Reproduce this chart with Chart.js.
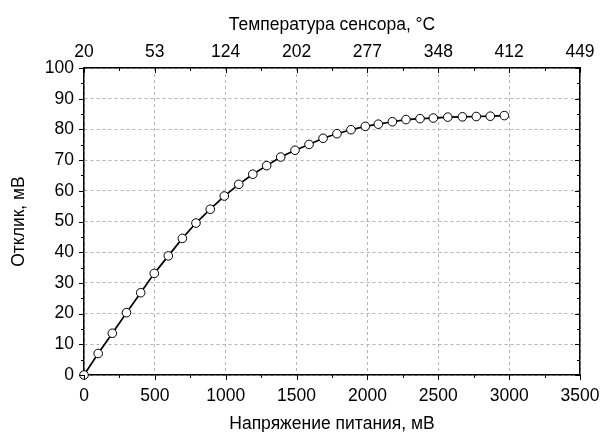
<!DOCTYPE html>
<html>
<head>
<meta charset="utf-8">
<script src="https://cdn.jsdelivr.net/npm/chart.js@4.4.0/dist/chart.umd.min.js"></script>
<style>
  html, body { margin: 0; padding: 0; background: #fff; }
  #wrap { width: 600px; height: 432px; }
</style>
</head>
<body>
<div id="wrap"><canvas id="grafico"></canvas></div>
<script>
// напряжение питания, мВ
const napryazhenie = [0, 100, 200, 300, 400, 496, 595, 694, 790, 891, 990, 1092, 1191, 1289, 1388, 1489,
  1588, 1687, 1785, 1884, 1985, 2077, 2176, 2272, 2371, 2465, 2567, 2670, 2768, 2867, 2966];
// отклик, мВ
const otklik = [0, 7.0, 13.6, 20.3, 26.8, 33.1, 38.8, 44.5, 49.5, 54.0, 58.3, 62.1, 65.4, 68.2, 71.0, 73.2,
  75.1, 77.1, 78.6, 79.9, 81.0, 81.7, 82.5, 83.2, 83.5, 83.7, 84.0, 84.1, 84.2, 84.3, 84.5];
// подписи верхней оси (температура)
const tempLabels = ['20', '53', '124', '202', '277', '348', '412', '449'];

const shrift = 'Liberation Sans, Arial, sans-serif';
const razmer = 17.5;

// засечки: длинные на основных делениях, короткие на промежуточных
const zasechki = {
  id: 'zasechki',
  afterDraw(chart) {
    const ctx = chart.ctx;
    const area = chart.chartArea;
    ctx.save();
    ctx.strokeStyle = '#000';
    ctx.lineWidth = 1;
    const osi = [
      { id: 'x', to: 3500, step: 250, major: 500 },
      { id: 'x2', to: 3500, step: 250, major: 500 },
      { id: 'y', to: 100, step: 5, major: 10 },
      { id: 'y2', to: 100, step: 5, major: 10 }
    ];
    osi.forEach(o => {
      const s = chart.scales[o.id];
      for (let v = 0; v <= o.to; v += o.step) {
        const len = v % o.major === 0 ? 5 : 3;
        const p = Math.round(s.getPixelForValue(v)) + 0.5;
        ctx.beginPath();
        if (o.id === 'x') { ctx.moveTo(p, area.bottom); ctx.lineTo(p, area.bottom + len); }
        if (o.id === 'x2') { ctx.moveTo(p, area.top); ctx.lineTo(p, area.top + len); }
        if (o.id === 'y') { ctx.moveTo(area.left, p); ctx.lineTo(area.left - len, p); }
        if (o.id === 'y2') { ctx.moveTo(area.right, p); ctx.lineTo(area.right - len, p); }
        ctx.stroke();
      }
    });
    ctx.restore();
  }
};

// горизонтальные оси: фиксированная высота, без запаса под крайние подписи
const fiksX = h => s => { s.height = h; s.paddingLeft = 0; s.paddingRight = 0; };

new Chart(document.getElementById('grafico'), {
  type: 'scatter',
  data: {
    datasets: [{
      data: napryazhenie.map((x, i) => ({ x, y: otklik[i] })),
      showLine: true,
      borderColor: '#000',
      borderWidth: 1.7,
      pointRadius: 4.3,
      pointBackgroundColor: '#fff',
      pointBorderColor: '#000',
      pointBorderWidth: 1,
      clip: false
    }]
  },
  options: {
    responsive: true,
    maintainAspectRatio: false,
    animation: false,
    layout: { padding: 0 },
    plugins: { legend: { display: false }, tooltip: { enabled: false } },
    scales: {
      x: {
        type: 'linear', position: 'bottom', min: 0, max: 3500,
        afterFit: fiksX(57),
        ticks: {
          stepSize: 250, autoSkip: false, maxRotation: 0, padding: 11, color: '#000',
          font: { family: shrift, size: razmer },
          callback: v => v % 500 === 0 ? v : ''
        },
        grid: {
          color: ctx => (ctx.tick && ctx.tick.value % 500 === 0) ? '#b4b4b4' : 'rgba(0,0,0,0)',
          lineWidth: 1,
          drawTicks: false
        },
        border: { color: '#000', width: 1.5, dash: [3, 3] },
        title: { display: true, text: 'Напряжение питания, мВ', color: '#000', font: { family: shrift, size: razmer }, padding: { top: 0, bottom: -3 } }
      },
      x2: {
        type: 'linear', position: 'top', min: 0, max: 3500,
        afterFit: fiksX(68),
        ticks: {
          stepSize: 500, autoSkip: false, maxRotation: 0, padding: 5, color: '#000',
          font: { family: shrift, size: razmer },
          callback: (v, i) => tempLabels[i]
        },
        grid: { drawOnChartArea: false, drawTicks: false },
        border: { color: '#000', width: 1.5 },
        title: { display: true, text: 'Температура сенсора, °C', color: '#000', font: { family: shrift, size: razmer }, padding: { top: 15, bottom: 0 } }
      },
      y: {
        type: 'linear', position: 'left', min: 0, max: 100,
        afterFit: s => { s.width = 84; s.paddingTop = 0; s.paddingBottom = 0; },
        ticks: {
          stepSize: 5, autoSkip: false, padding: 10, color: '#000',
          font: { family: shrift, size: razmer },
          callback: v => v % 10 === 0 ? v : ''
        },
        grid: {
          color: ctx => (ctx.tick && ctx.tick.value % 10 === 0) ? '#b4b4b4' : 'rgba(0,0,0,0)',
          lineWidth: 1,
          drawTicks: false
        },
        border: { color: '#000', width: 1.5, dash: [3, 3] },
        title: { display: true, text: 'Отклик, мВ', color: '#000', font: { family: shrift, size: razmer }, padding: { top: 9, bottom: 0 } }
      },
      y2: {
        type: 'linear', position: 'right', min: 0, max: 100,
        afterFit: s => { s.width = 20; s.paddingTop = 0; s.paddingBottom = 0; },
        ticks: { display: false },
        grid: { drawOnChartArea: false, drawTicks: false },
        border: { color: '#000', width: 1.5 }
      }
    }
  },
  plugins: [zasechki]
});
</script>
</body>
</html>
